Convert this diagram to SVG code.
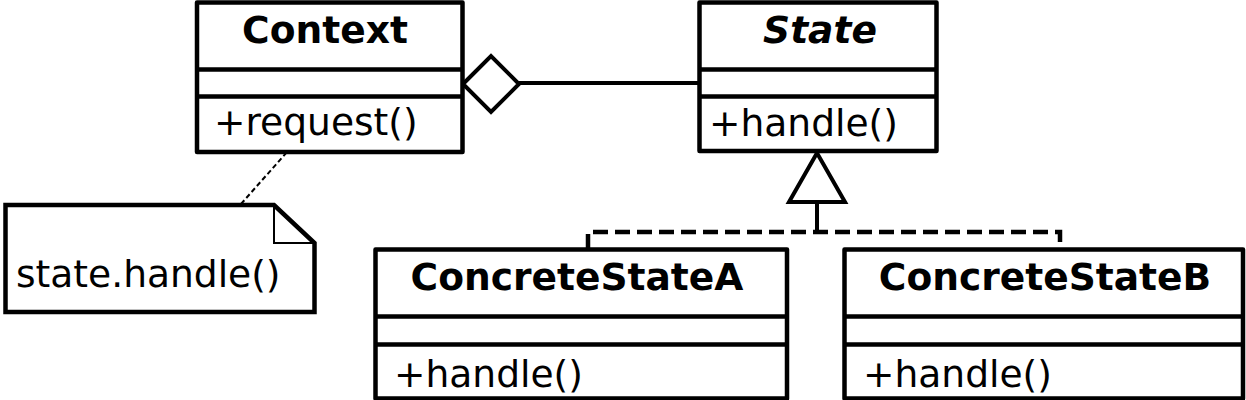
<svg xmlns="http://www.w3.org/2000/svg" width="1246" height="400" viewBox="0 0 1246 400">
<style>
.box{fill:#fff;stroke:#000;stroke-width:4.5;stroke-linejoin:round}
.div{stroke:#000;stroke-width:4.5}
.t{font-family:"DejaVu Sans","Liberation Sans",sans-serif;font-size:37.6px;fill:#000}
.b{font-weight:bold;text-anchor:middle}
.i{font-style:italic}
.ln{fill:none;stroke:#000;stroke-width:4}
.dash{fill:none;stroke:#000;stroke-width:4.5;stroke-dasharray:15 7}
.fine{fill:none;stroke:#000;stroke-width:2;stroke-dasharray:5 3}
</style>
<rect width="1246" height="400" fill="#fff"/>
<g id="connectors">
<line class="fine" x1="241" y1="204" x2="287" y2="152"/>
<line class="ln" x1="519" y1="83" x2="699" y2="83"/>
<polygon class="ln" points="463,84 491,56 519,84 491,112" style="fill:#fff"/>
<polyline class="dash" points="588,249 588,232 1060,232 1060,249"/>
<line class="ln" x1="817" y1="202" x2="817" y2="232"/>
<polygon class="ln" points="817,153 789,202 845,202" style="fill:#fff;stroke-linejoin:miter"/>
</g>
<g id="Context">
<rect class="box" x="197" y="2.5" width="265.5" height="149.5"/>
<line class="div" x1="197" y1="69.5" x2="462.5" y2="69.5"/>
<line class="div" x1="197" y1="96.5" x2="462.5" y2="96.5"/>
<text class="t b" x="325" y="43">Context</text>
<text class="t" x="214" y="135">+request()</text>
</g>
<g id="State">
<rect class="box" x="699.5" y="2.5" width="237" height="148.5"/>
<line class="div" x1="699.5" y1="69.5" x2="936.5" y2="69.5"/>
<line class="div" x1="699.5" y1="96.5" x2="936.5" y2="96.5"/>
<text class="t b i" x="820" y="43">State</text>
<text class="t" x="709" y="136">+handle()</text>
</g>
<g id="ConcreteStateA">
<rect class="box" x="375.5" y="249.5" width="411.5" height="149"/>
<line class="div" x1="375.5" y1="316.5" x2="787" y2="316.5"/>
<line class="div" x1="375.5" y1="344.5" x2="787" y2="344.5"/>
<text class="t b" x="577" y="290">ConcreteStateA</text>
<text class="t" x="394" y="387">+handle()</text>
</g>
<g id="ConcreteStateB">
<rect class="box" x="844.5" y="249.5" width="398.5" height="149"/>
<line class="div" x1="844.5" y1="316.5" x2="1243" y2="316.5"/>
<line class="div" x1="844.5" y1="344.5" x2="1243" y2="344.5"/>
<text class="t b" x="1045" y="290">ConcreteStateB</text>
<text class="t" x="863" y="387">+handle()</text>
</g>
<g id="note">
<path class="box" d="M5.5,205 L274,205 L314.5,243 L314.5,312 L5.5,312 Z" style="stroke-linejoin:miter"/>
<path d="M274,205 L274,243 L314.5,243" fill="none" stroke="#000" stroke-width="2"/>
<text class="t" x="16" y="287">state.handle()</text>
</g>
</svg>
